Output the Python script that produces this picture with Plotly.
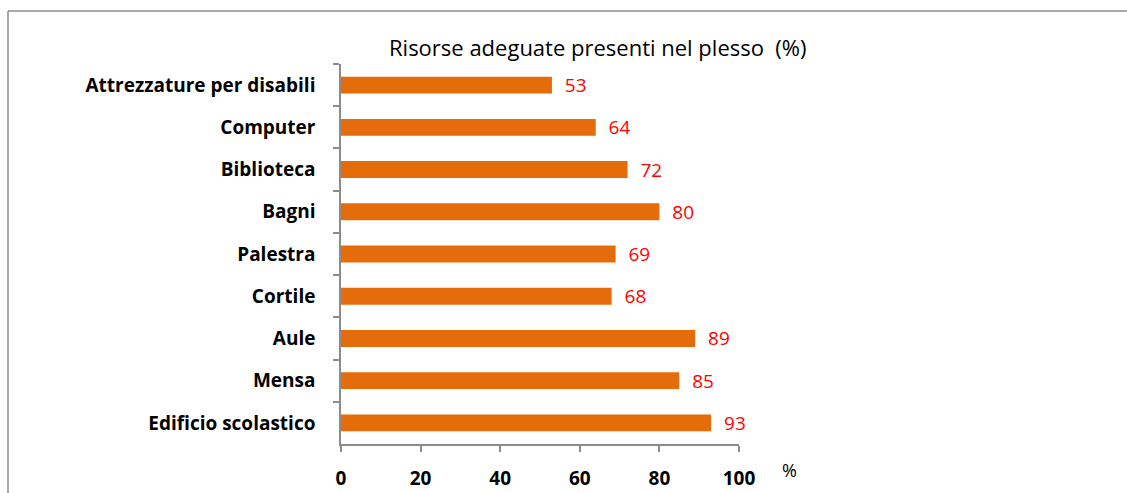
import plotly.graph_objects as go

categories = ["Attrezzature per disabili", "Computer", "Biblioteca", "Bagni",
              "Palestra", "Cortile", "Aule", "Mensa", "Edificio scolastico"]
values = [53, 64, 72, 80, 69, 68, 89, 85, 93]
x_ticks = [0, 20, 40, 60, 80, 100]
title_text = "Risorse adeguate presenti nel plesso  (%)"
x_unit = "%"

W, H = 1127, 493
L, R, T, B = 341, 739, 64, 444
ml, mr, mt, mb = L, W - R, T, H - B

def px_x(p):
    return (p - L) / (R - L)

def px_y(p):
    return (B - p) / (B - T)

FONT = "Open Sans"

fig = go.Figure()
fig.add_trace(go.Bar(
    y=categories, x=values, orientation="h",
    marker=dict(color="#E46C0A", line=dict(width=0)),
    width=0.4,
    text=values, texttemplate="  %{x}", textposition="outside",
    constraintext="none",
    textfont=dict(color="#FF0000", size=19, family=FONT),
    cliponaxis=False,
))

frame = dict(color="#8C8C8C", width=1.5)
fig.add_shape(type="line", xref="paper", yref="paper",
              x0=px_x(8), x1=px_x(8), y0=px_y(11), y1=px_y(500), line=frame)
fig.add_shape(type="line", xref="paper", yref="paper",
              x0=px_x(8), x1=px_x(1130), y0=px_y(11), y1=px_y(11), line=frame)

fig.add_annotation(text=title_text, xref="paper", yref="paper",
                   x=px_x(598), y=px_y(47), xanchor="center", yanchor="middle",
                   showarrow=False,
                   font=dict(size=22, color="#000000", family=FONT))
fig.add_annotation(text=x_unit, xref="paper", yref="paper",
                   x=px_x(789), y=px_y(470), xanchor="center", yanchor="middle",
                   showarrow=False,
                   font=dict(size=18, color="#000000", family=FONT))

fig.update_layout(
    width=W, height=H,
    margin=dict(l=ml, r=mr, t=mt, b=mb, autoexpand=False),
    paper_bgcolor="white", plot_bgcolor="white",
    showlegend=False,
    xaxis=dict(range=[0, 100], tickvals=x_ticks, showgrid=False, zeroline=False,
               showline=True, linecolor="#8C8C8C", linewidth=1.5,
               ticks="outside", ticklen=6, tickcolor="#8C8C8C", tickwidth=1.5,
               ticklabelstandoff=10, automargin=False,
               tickfont=dict(size=19, color="#000000", family=FONT, weight="bold"),
               fixedrange=True),
    yaxis=dict(categoryorder="array", categoryarray=categories, autorange="reversed",
               showgrid=False, zeroline=False,
               showline=True, linecolor="#8C8C8C", linewidth=1.5,
               ticks="outside", ticklen=6, tickcolor="#8C8C8C", tickwidth=1.5,
               tickson="boundaries", ticklabelstandoff=20, automargin=False,
               tickfont=dict(size=19, color="#000000", family=FONT, weight="bold"),
               fixedrange=True),
)

fig.write_html("out.html", config={"displayModeBar": False},
               post_script="document.body.style.margin='0';document.body.style.overflow='hidden';")
